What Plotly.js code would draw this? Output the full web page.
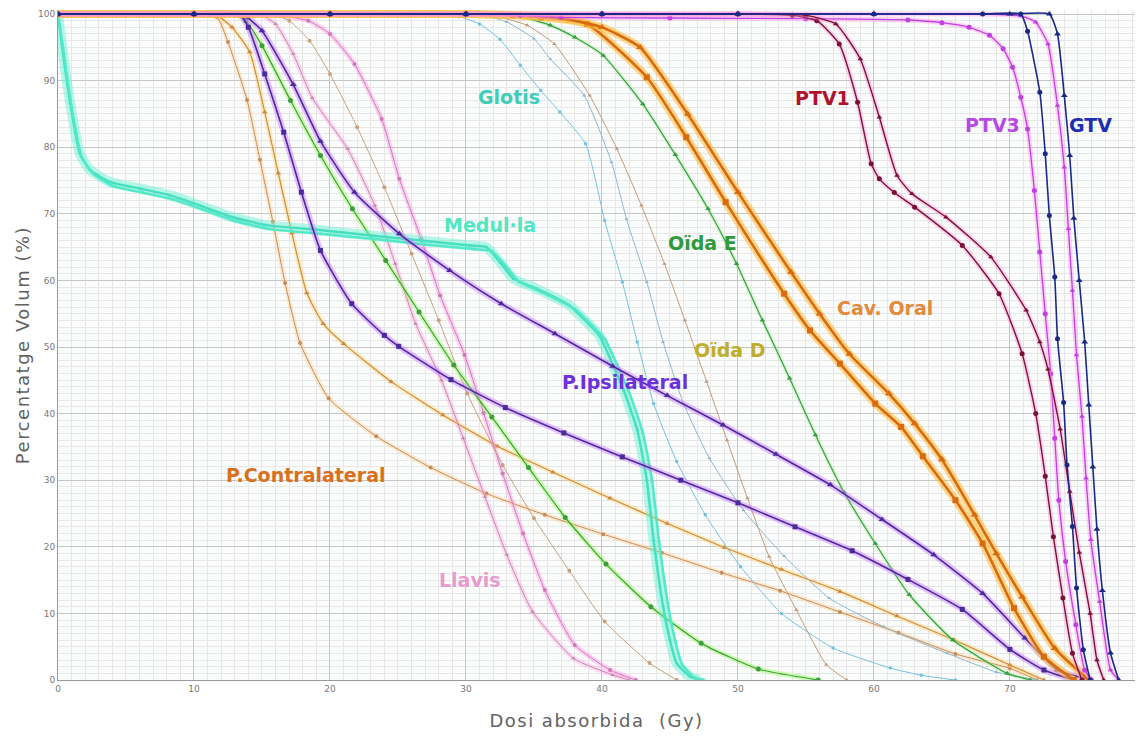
<!DOCTYPE html>
<html>
<head>
<meta charset="utf-8">
<script src="https://cdn.plot.ly/plotly-3.0.1.min.js"></script>
<style>
html,body{margin:0;padding:0;background:#fff;}
#chart{width:1137px;height:738px;}
.xtitle,.ytitle{letter-spacing:1.5px;}
</style>
</head>
<body>
<div id="chart"></div>
<script>
// ---- Data (dose in Gy, volume in %) ----
var medullaA_x = [0, 0.27, 0.9, 1.6, 2.35, 3.8, 6.0, 8.2, 9.95, 12.65, 15.3, 19, 23, 26.7, 30.3, 31.5, 32.5, 33.5, 35.2, 37.6, 39, 39.8, 41.6, 42.6, 43.3, 43.8, 44.5, 45, 45.5, 46.5, 47.2];
var medullaA_y = [100, 95.6, 86.6, 79.1, 76.6, 74.8, 73.8, 72.8, 71.6, 69.6, 68.3, 67.6, 66.75, 66, 65.25, 65, 62.75, 60.25, 58.75, 56.25, 53.5, 51.75, 43.5, 37.5, 30, 21, 11, 6, 2.5, 0.5, 0];
var medullaB_x = [0, 0.35, 1.0, 1.75, 2.6, 4.0, 6.2, 8.4, 10.2, 12.9, 15.6, 19.3, 23.3, 27, 30.6, 31.9, 32.9, 33.9, 35.6, 38, 39.4, 40.2, 42.0, 43.0, 43.7, 44.2, 44.9, 45.4, 45.9, 46.8, 47.5];
var medullaB_y = [100, 95.2, 86.0, 78.5, 76.0, 74.2, 73.2, 72.2, 71.0, 69.0, 67.7, 67.0, 66.2, 65.4, 64.7, 64.4, 62.2, 59.8, 58.2, 55.7, 53.0, 51.2, 43.2, 37.2, 29.8, 20.8, 10.8, 5.8, 2.3, 0.4, 0];

var glotisA_x = [0, 10, 20, 28, 29.5, 31, 32.5, 34, 35.5, 36.9, 38.8, 40.2, 41.5, 42.6, 43.8, 45.5, 47.6, 50.2, 53.2, 57, 61.2, 63.5, 66];
var glotisA_y = [100, 100, 100, 100, 99.6, 98.5, 96.2, 92.3, 88.5, 85.3, 80.5, 69, 59.75, 50.75, 41.5, 32.8, 24.8, 17, 10, 4.8, 1.8, 0.7, 0];
var glotisB_x = [0, 10, 20, 30, 31.5, 33, 35, 36.2, 38.7, 40.7, 41.8, 43.3, 44.5, 46, 47.9, 50.4, 53.4, 56.7, 60.7, 65.4, 69, 72];
var glotisB_y = [100, 100, 100, 100, 99.7, 98.8, 96.3, 93.25, 87.75, 77.75, 69.25, 59.75, 50.75, 41.5, 33.3, 25.5, 18.6, 12.3, 8, 4, 1.2, 0];

var oidaD_A_x = [0, 10, 20, 30, 32.5, 34.5, 36.5, 39.1, 41.1, 42.9, 44.6, 46.1, 47.7, 49.2, 50.7, 52.3, 54.3, 56.5, 58];
var oidaD_A_y = [100, 100, 100, 100, 99.5, 98.3, 95.5, 87.75, 79.75, 71.25, 62.5, 54, 44.8, 36, 27.3, 18.5, 10.5, 2.3, 0];
var oidaD_B_x = [0, 10, 15.5, 17, 18.5, 20, 22, 24, 26, 28, 30.1, 32.7, 35, 37.6, 40.2, 43.5, 45.5];
var oidaD_B_y = [100, 100, 100, 99, 96, 91, 83, 74, 64, 54, 43, 32.3, 24.3, 16.4, 8.8, 2.55, 0];

var oidaE_A_x = [0, 10, 20, 30, 34, 36.2, 38, 40.1, 43, 45.4, 47.8, 49.9, 51.8, 53.8, 55.7, 57.8, 60.1, 62.6, 65.8, 69.8, 71.5];
var oidaE_A_y = [100, 100, 100, 100, 99.6, 98.3, 96.5, 93.75, 86.5, 78.85, 70.75, 62.5, 54, 45.3, 36.8, 28.2, 20.5, 12.8, 6, 1, 0];
var oidaE_B_x = [0, 6, 13, 13.8, 15, 17.1, 19.3, 21.65, 24.1, 26.55, 29.1, 31.9, 34.6, 37.3, 40.3, 43.6, 47.3, 51.5, 55.9];
var oidaE_B_y = [100, 100, 100, 99, 95.25, 87, 78.75, 70.75, 63, 55.25, 47.3, 39.5, 31.9, 24.4, 17.4, 11, 5.5, 1.65, 0];

var cavOralA_x = [0, 10, 20, 30, 33.5, 35.5, 38.9, 43.3, 46.2, 49.1, 53.4, 55.3, 57.5, 60.1, 62, 63.6, 66, 68, 70.3, 72.5, 74.7];
var cavOralA_y = [100, 100, 100, 100, 99.8, 99.5, 98.5, 90.5, 81.5, 71.75, 58, 52.5, 47.5, 41.5, 38, 33.6, 27, 20.5, 10.8, 3.5, 0];
var cavOralB_x = [0, 10, 20, 30, 34, 37, 40, 42.8, 46.3, 50, 53.9, 56, 58.2, 61.1, 63, 65, 67.4, 69, 70.9, 73.3, 75.8];
var cavOralB_y = [100, 100, 100, 100, 99.8, 99.4, 98, 95, 85, 73.25, 61.25, 55, 48.95, 43, 38.5, 33.1, 24.8, 19, 12.5, 4.75, 0];

var ptv1A_x = [0, 10, 20, 30, 40, 50, 54, 55.8, 57.45, 58.8, 59.8, 60.4, 61.5, 63, 66.5, 69.2, 70.9, 71.9, 72.6, 73.2, 73.9, 74.6, 75.3];
var ptv1A_y = [100, 100, 100, 100, 100, 100, 99.8, 99, 95.5, 86.75, 77.5, 75.25, 73.2, 71, 65.25, 58, 49, 40, 30.6, 21.5, 12.3, 4, 0];
var ptv1B_x = [0, 10, 20, 30, 40, 50, 55, 57.2, 59, 60.4, 61.7, 62.8, 65.3, 68.6, 71.2, 72.2, 72.8, 73.7, 74.4, 75.1, 75.9, 76.4, 76.9];
var ptv1B_y = [100, 100, 100, 100, 100, 100, 99.8, 98.5, 93.25, 84.5, 75.75, 73, 69.5, 63.5, 55.5, 50.75, 46.65, 37.65, 28.3, 19.15, 10, 3, 0];

var ptv3A_x = [0, 10, 20, 30, 34, 37, 45, 55, 62.5, 65, 67, 68.5, 69.5, 70.2, 70.8, 71.3, 71.8, 72.2, 72.6, 73.0, 73.3, 73.6, 74.1, 74.85, 75.5, 76];
var ptv3A_y = [100, 100, 100, 100, 99.8, 99.5, 99.4, 99.3, 99.1, 98.7, 98, 96.8, 94.8, 92, 87.5, 82.75, 73.5, 64.25, 55, 46, 36.3, 27, 17.8, 8.3, 1.5, 0];
var ptv3B_x = [0, 10, 20, 30, 40, 50, 60, 68, 70.8, 71.9, 72.8, 73.5, 74, 74.3, 74.6, 74.9, 75.3, 75.6, 75.95, 76.6, 77.4, 78];
var ptv3B_y = [100, 100, 100, 100, 100, 100, 100, 100, 99.7, 98.75, 95.5, 86.25, 77, 67.75, 58.5, 48.8, 39.55, 30.3, 21.05, 11.8, 1.5, 0];

var gtvA_x = [0, 10, 20, 30, 40, 50, 60, 68, 70.8, 71.3, 72.2, 72.6, 72.9, 73.3, 73.5, 73.95, 74.2, 74.6, 74.9, 75.4, 75.9];
var gtvA_y = [100, 100, 100, 100, 100, 100, 100, 100, 100, 97.4, 88.25, 79, 69.75, 60.5, 51.25, 41.65, 32.3, 23.05, 13.8, 4.55, 0];
var gtvB_x = [0, 10, 20, 30, 40, 50, 60, 70, 72.9, 73.5, 74, 74.4, 74.7, 75.1, 75.5, 75.8, 76.1, 76.4, 76.8, 77.4, 78];
var gtvB_y = [100, 100, 100, 100, 100, 100, 100, 100, 100, 97, 87.75, 78.75, 69.35, 60, 50.75, 41.3, 32, 22.65, 13.45, 4.05, 0];

var pIpsiA_x = [0, 5, 10, 13.3, 14, 15.2, 16.6, 17.9, 19.3, 21.6, 24, 25.05, 28.9, 32.9, 37.2, 41.5, 45.8, 50, 54.2, 58.4, 62.5, 66.5, 70, 72.5, 74.7];
var pIpsiA_y = [100, 100, 100, 100, 98, 91, 82.25, 73.25, 64.5, 56.5, 51.75, 50.1, 45.1, 40.9, 37.1, 33.5, 30, 26.6, 23, 19.4, 15.1, 10.6, 4.6, 1.5, 0];
var pIpsiB_x = [0, 5, 10, 13.3, 13.9, 15, 17.3, 19.3, 21.8, 25.1, 28.8, 32.6, 36.55, 40.8, 44.8, 48.9, 52.8, 56.8, 60.6, 64.4, 68, 71.1, 73.5, 76];
var pIpsiB_y = [100, 100, 100, 100, 99.5, 97.5, 89.4, 80.9, 73.25, 67, 61.5, 56.5, 52, 47.1, 42.7, 38.3, 33.9, 29.3, 24.1, 18.8, 13, 6.3, 1.5, 0];

var pContraA_x = [0, 5, 10, 11.7, 12.5, 13.9, 14.85, 15.8, 16.7, 17.8, 19.9, 23.4, 27.4, 31.5, 35.8, 40.1, 44.4, 48.8, 53.1, 57.5, 61.8, 66, 70, 72];
var pContraA_y = [100, 100, 100, 99.5, 95.8, 87.1, 78.1, 68.8, 59.6, 50.6, 42.3, 36.6, 31.9, 28, 24.8, 21.9, 19.1, 16.1, 13.4, 10.2, 7.1, 3.9, 1.75, 0];
var pContraB_x = [0, 5, 10, 11.8, 12.8, 14.1, 15.2, 16.2, 17.2, 18.3, 19.5, 21, 24.5, 28.3, 32.3, 36.4, 40.6, 44.8, 49, 53.2, 57.5, 61.7, 65.9, 70, 72.5];
var pContraB_y = [100, 100, 100, 99.6, 98, 94.3, 85.3, 76.1, 67.1, 58.1, 53.5, 50.5, 44.8, 39.8, 35.1, 31.2, 27.3, 23.5, 19.9, 16.6, 13.3, 9.6, 6.0, 2.25, 0];

var llavisA_x = [0, 5, 10, 15, 16.5, 18.4, 20, 21.8, 23.8, 25.1, 26.7, 28.1, 29.9, 31.3, 32.7, 34.2, 35.8, 38, 40.6, 42.5];
var llavisA_y = [100, 100, 100, 100, 99.7, 99, 97, 92.5, 84.25, 75.25, 66.25, 57.75, 48.8, 40.1, 31, 22, 13.5, 5.25, 1.5, 0];
var llavisB_x = [0, 5, 10, 14, 15, 16, 17.3, 18.7, 21.3, 23.3, 24.8, 26.3, 28.2, 29.8, 31.4, 33, 34.9, 37.9, 40.8, 42];
var llavisB_y = [100, 100, 100, 100, 99.8, 98.5, 94, 87.4, 79.75, 71.25, 62.5, 53.5, 45, 36.3, 27.5, 18.8, 10.25, 3.25, 0.75, 0];

// Structure labels
var labelText = ["Glotis", "Medul\u00b7la", "Oïda E", "Cav. Oral", "Oïda D", "P.Ipsilateral", "P.Contralateral", "Llavis", "PTV1", "PTV3", "GTV"];
var labelX = [33.2, 31.8, 47.4, 60.8, 49.4, 41.7, 18.2, 30.3, 56.2, 68.75, 75.9];
var labelY = [87.5, 68.3, 65.6, 55.9, 49.5, 44.7, 30.8, 15.0, 87.4, 83.3, 83.3];
var labelColor = ["#3fcdb8", "#52e6c2", "#2e9a3a", "#e48a3c", "#bfae2a", "#6d30dc", "#d8701c", "#e89bcd", "#b0122e", "#b848e6", "#1f2fb0"];

// ---- Build traces ----
var traces = [];
function curve(x, y, color, halo, haloW, sym, w, ms) {
  if (halo) {
    traces.push({x: x, y: y, type: 'scatter', mode: 'lines', hoverinfo: 'skip', showlegend: false,
      line: {color: halo, width: haloW, shape: 'spline', smoothing: 0.5}});
  }
  traces.push({x: x, y: y, type: 'scatter', mode: 'lines+markers', showlegend: false,
    line: {color: color, width: w, shape: 'spline', smoothing: 0.5},
    marker: {symbol: sym, size: ms, color: color}});
}

curve(pContraA_x, pContraA_y, '#c98a5c', 'rgba(255,205,140,0.35)', 5, 'circle', 1, 4);
curve(pContraB_x, pContraB_y, '#d08a40', 'rgba(255,215,120,0.4)', 5, 'triangle-up', 1.2, 5);
curve(llavisB_x, llavisB_y, '#c58aa8', 'rgba(255,160,230,0.35)', 5, 'triangle-up', 1, 4);
curve(llavisA_x, llavisA_y, '#cf7ab8', 'rgba(255,150,230,0.4)', 5, 'circle', 1, 4);
curve(oidaD_B_x, oidaD_B_y, '#c8a07c', null, 0, 'circle', 1, 4);
curve(oidaD_A_x, oidaD_A_y, '#c39a78', null, 0, 'triangle-up', 1, 4);
curve(glotisA_x, glotisA_y, '#74c2e0', null, 0, 'circle', 1, 3.5);
curve(glotisB_x, glotisB_y, '#8ab8d0', null, 0, 'triangle-up', 1, 3.5);
curve(oidaE_B_x, oidaE_B_y, '#3c9e3c', 'rgba(150,255,90,0.45)', 5, 'circle', 1.2, 5);
curve(oidaE_A_x, oidaE_A_y, '#33a043', 'rgba(150,240,120,0.3)', 4, 'triangle-up', 1.2, 5);
curve(medullaA_x, medullaA_y, '#46e0c0', 'rgba(110,240,210,0.5)', 10, 'circle', 2.5, 3);
curve(medullaB_x, medullaB_y, '#52e8c8', null, 0, 'circle', 2.5, 3);
curve(pIpsiB_x, pIpsiB_y, '#4a2b9c', 'rgba(205,120,255,0.45)', 6, 'triangle-up', 1.6, 6);
curve(pIpsiA_x, pIpsiA_y, '#4a2b9c', 'rgba(205,120,255,0.45)', 6, 'square', 1.6, 5);
curve(cavOralA_x, cavOralA_y, '#d86a12', 'rgba(255,190,60,0.6)', 8, 'square', 2.6, 6);
curve(cavOralB_x, cavOralB_y, '#d86a12', 'rgba(255,190,60,0.6)', 8, 'triangle-up', 2.6, 7);
curve(ptv3A_x, ptv3A_y, '#c040e0', 'rgba(255,150,240,0.4)', 5, 'circle', 1.3, 5);
curve(ptv3B_x, ptv3B_y, '#c040e0', 'rgba(255,150,240,0.4)', 5, 'triangle-up', 1.3, 5);
curve(ptv1A_x, ptv1A_y, '#7a1236', 'rgba(255,150,220,0.4)', 5, 'circle', 1.4, 5);
curve(ptv1B_x, ptv1B_y, '#7a1236', 'rgba(255,150,220,0.4)', 5, 'triangle-up', 1.4, 5);
curve(gtvA_x, gtvA_y, '#1a2a84', null, 0, 'circle', 1.6, 5);
curve(gtvB_x, gtvB_y, '#1a2a84', null, 0, 'triangle-up', 1.6, 6);

var annotations = labelText.map(function (t, i) {
  return {x: labelX[i], y: labelY[i], xref: 'x', yref: 'y', text: '<b>' + t + '</b>', showarrow: false,
    font: {family: 'DejaVu Sans, sans-serif', size: 19, color: labelColor[i]}};
});

var gridMajor = '#c6c6c6', gridMinor = '#e7e7e7';
var layout = {
  width: 1137, height: 738,
  margin: {l: 58, r: 2, t: 10, b: 58},
  paper_bgcolor: '#ffffff', plot_bgcolor: '#fbfcfc',
  showlegend: false,
  xaxis: {range: [0, 79.2], tick0: 0, dtick: 10, showgrid: true, gridcolor: gridMajor, gridwidth: 1,
    minor: {dtick: 1, showgrid: true, gridcolor: gridMinor, gridwidth: 1},
    zeroline: false, showline: true, linecolor: '#9a9a9a', ticks: '',
    tickfont: {family: 'DejaVu Sans, sans-serif', size: 9, color: '#777'},
    title: {text: 'Dosi absorbida\u00a0 (Gy)', standoff: 21,
      font: {family: 'DejaVu Sans, sans-serif', size: 18, color: '#626262'}}},
  yaxis: {range: [0, 100.6], tick0: 0, dtick: 10, showgrid: true, gridcolor: gridMajor, gridwidth: 1,
    minor: {dtick: 1, showgrid: true, gridcolor: gridMinor, gridwidth: 1},
    zeroline: false, showline: true, linecolor: '#9a9a9a', ticks: '',
    tickfont: {family: 'DejaVu Sans, sans-serif', size: 9, color: '#777'},
    title: {text: 'Percentatge Volum (%)', standoff: 3,
      font: {family: 'DejaVu Sans, sans-serif', size: 18, color: '#626262'}}},
  annotations: annotations
};

Plotly.newPlot('chart', traces, layout, {displayModeBar: false, staticPlot: true});
</script>
</body>
</html>
